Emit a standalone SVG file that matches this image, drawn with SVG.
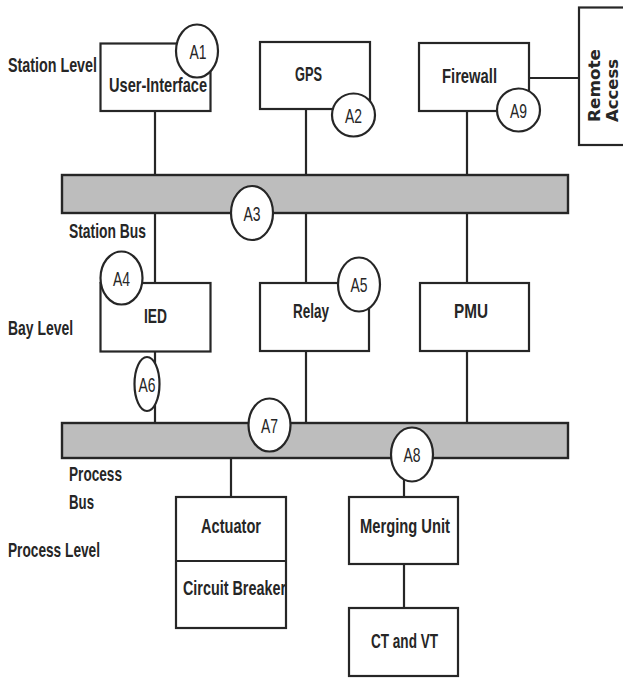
<svg xmlns="http://www.w3.org/2000/svg" width="623" height="680" viewBox="0 0 623 680">
<style>
.bx{fill:#fff;stroke:#262626;stroke-width:2.2}
.bus{fill:#bdbdbd;stroke:#262626;stroke-width:2.4}
.ln{stroke:#262626;stroke-width:2.2;fill:none}
.mk{fill:#fff;stroke:#262626;stroke-width:2.2}
.t{font-family:"Liberation Sans",Arial,sans-serif;font-weight:bold;font-size:21px;fill:#262626}
.a{font-family:"Liberation Sans",Arial,sans-serif;font-size:21px;fill:#262626;text-anchor:middle}
.r{font-family:"DejaVu Sans",sans-serif;font-weight:bold;font-size:16px;fill:#262626}
</style>
<rect width="623" height="680" fill="#fff"/>
<g id="connectors">
<line class="ln" x1="155" y1="111" x2="155" y2="175"/>
<line class="ln" x1="306" y1="109" x2="306" y2="175"/>
<line class="ln" x1="467" y1="111" x2="467" y2="175"/>
<line class="ln" x1="529" y1="78" x2="579" y2="78"/>
<line class="ln" x1="155" y1="213" x2="155" y2="283"/>
<line class="ln" x1="306" y1="213" x2="306" y2="283"/>
<line class="ln" x1="467" y1="213" x2="467" y2="283"/>
<line class="ln" x1="155" y1="351" x2="155" y2="423"/>
<line class="ln" x1="306" y1="351" x2="306" y2="423"/>
<line class="ln" x1="467" y1="351" x2="467" y2="423"/>
<line class="ln" x1="231" y1="458" x2="231" y2="497"/>
<line class="ln" x1="404" y1="470" x2="404" y2="497"/>
<line class="ln" x1="404" y1="564" x2="404" y2="608"/>
</g>
<g id="labels">
<text class="t" x="8" y="72" textLength="89" lengthAdjust="spacingAndGlyphs">Station Level</text>
<text class="t" x="69" y="238" textLength="77" lengthAdjust="spacingAndGlyphs">Station Bus</text>
<text class="t" x="8" y="335" textLength="65" lengthAdjust="spacingAndGlyphs">Bay Level</text>
<text class="t" x="69" y="481" textLength="53" lengthAdjust="spacingAndGlyphs">Process</text>
<text class="t" x="69" y="509" textLength="25" lengthAdjust="spacingAndGlyphs">Bus</text>
<text class="t" x="8" y="557" textLength="92" lengthAdjust="spacingAndGlyphs">Process Level</text>
</g>
<g id="station-bus"><rect class="bus" x="62" y="175" width="506" height="38"/></g>
<g id="process-bus"><rect class="bus" x="62" y="423" width="506" height="35"/></g>
<g id="user-interface">
<rect class="bx" x="100.5" y="43.5" width="110" height="67.5"/>
<text class="t" x="109" y="92" textLength="98" lengthAdjust="spacingAndGlyphs">User-Interface</text>
</g>
<g id="gps">
<rect class="bx" x="260" y="42" width="110" height="67"/>
<text class="t" x="295" y="81" textLength="27" lengthAdjust="spacingAndGlyphs">GPS</text>
</g>
<g id="firewall">
<rect class="bx" x="419" y="43" width="110" height="68"/>
<text class="t" x="442" y="83" textLength="55" lengthAdjust="spacingAndGlyphs">Firewall</text>
</g>
<g id="remote-access">
<rect class="bx" x="579" y="7.5" width="50" height="137.5"/>
<text class="r" transform="translate(600,122) rotate(-90)" textLength="73" lengthAdjust="spacingAndGlyphs">Remote</text>
<text class="r" transform="translate(618,122) rotate(-90)" textLength="63" lengthAdjust="spacingAndGlyphs">Access</text>
</g>
<g id="ied">
<rect class="bx" x="100.5" y="283" width="110" height="68.5"/>
<text class="t" x="144" y="323" textLength="23" lengthAdjust="spacingAndGlyphs">IED</text>
</g>
<g id="relay">
<rect class="bx" x="260" y="283" width="109" height="68"/>
<text class="t" x="293" y="318" textLength="36" lengthAdjust="spacingAndGlyphs">Relay</text>
</g>
<g id="pmu">
<rect class="bx" x="420" y="283" width="109" height="68"/>
<text class="t" x="454" y="318" textLength="34" lengthAdjust="spacingAndGlyphs">PMU</text>
</g>
<g id="actuator-circuit-breaker">
<rect class="bx" x="176" y="497" width="110" height="131"/>
<line class="ln" x1="176" y1="561" x2="286" y2="561"/>
<text class="t" x="201" y="533" textLength="60" lengthAdjust="spacingAndGlyphs">Actuator</text>
<text class="t" x="183" y="595" textLength="103" lengthAdjust="spacingAndGlyphs">Circuit Breaker</text>
</g>
<g id="merging-unit">
<rect class="bx" x="349" y="497" width="109" height="67"/>
<text class="t" x="360" y="533" textLength="90" lengthAdjust="spacingAndGlyphs">Merging Unit</text>
</g>
<g id="ct-vt">
<rect class="bx" x="349" y="608" width="109" height="68"/>
<text class="t" x="371" y="648" textLength="67" lengthAdjust="spacingAndGlyphs">CT and VT</text>
</g>
<g id="A1"><ellipse class="mk" cx="197" cy="51" rx="21" ry="26.5"/><text class="a" x="198" y="58.5" textLength="17" lengthAdjust="spacingAndGlyphs">A1</text></g>
<g id="A2"><ellipse class="mk" cx="353.5" cy="115" rx="21.5" ry="21.5"/><text class="a" x="353.5" y="122.5" textLength="17" lengthAdjust="spacingAndGlyphs">A2</text></g>
<g id="A9"><ellipse class="mk" cx="518.5" cy="110" rx="21.5" ry="21.5"/><text class="a" x="518.5" y="117.5" textLength="17" lengthAdjust="spacingAndGlyphs">A9</text></g>
<g id="A3"><ellipse class="mk" cx="252" cy="213" rx="21" ry="27"/><text class="a" x="252" y="220.5" textLength="17" lengthAdjust="spacingAndGlyphs">A3</text></g>
<g id="A4"><ellipse class="mk" cx="121.5" cy="278" rx="21" ry="26.5"/><text class="a" x="121.5" y="285.5" textLength="17" lengthAdjust="spacingAndGlyphs">A4</text></g>
<g id="A5"><ellipse class="mk" cx="359" cy="284.5" rx="21" ry="27"/><text class="a" x="359" y="292" textLength="17" lengthAdjust="spacingAndGlyphs">A5</text></g>
<g id="A6"><ellipse class="mk" cx="147" cy="384" rx="12.5" ry="27"/><text class="a" x="147" y="391.5" textLength="17" lengthAdjust="spacingAndGlyphs">A6</text></g>
<g id="A7"><ellipse class="mk" cx="269.5" cy="425" rx="21" ry="26.5"/><text class="a" x="269.5" y="432.5" textLength="17" lengthAdjust="spacingAndGlyphs">A7</text></g>
<g id="A8"><ellipse class="mk" cx="412" cy="454.5" rx="21" ry="27"/><text class="a" x="412" y="462" textLength="17" lengthAdjust="spacingAndGlyphs">A8</text></g>
</svg>
